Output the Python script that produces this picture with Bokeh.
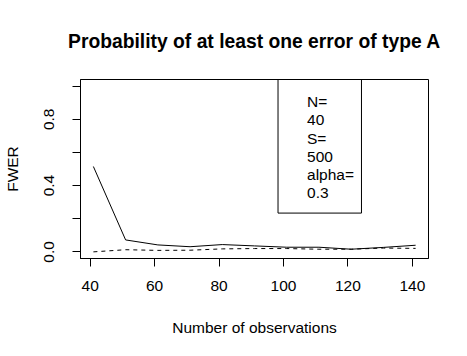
from bokeh.plotting import figure
from bokeh.embed import file_html
from bokeh.resources import INLINE
from bokeh.models import FixedTicker, PrintfTickFormatter, Range1d
from bokeh.core.properties import value

# ---- data ----
n_obs = [41, 51, 61, 71, 81, 91, 101, 111, 121, 131, 141]
fwer_solid = [0.515, 0.072, 0.042, 0.031, 0.044, 0.036, 0.028, 0.028, 0.016, 0.027, 0.040]
fwer_dashed = [0.0, 0.013, 0.009, 0.010, 0.018, 0.020, 0.020, 0.016, 0.016, 0.023, 0.021]
x_ticks = [40, 60, 80, 100, 120, 140]
y_ticks_labeled = [0.0, 0.4, 0.8]
y_ticks_unlabeled = [0.2, 0.6, 1.0]
legend_lines = ["N=", "40", "S=", "500", "alpha=", "0.3"]
title_text = "Probability of at least one error of type A"

FONT = "Liberation Sans"
FS = "15.5px"

p = figure(frame_width=348, frame_height=179,
           min_border_left=79, min_border_right=30,
           min_border_top=79, min_border_bottom=91,
           x_range=Range1d(37, 145), y_range=Range1d(-0.04, 1.04),
           output_backend="svg", toolbar_location=None,
           title=title_text)

p.background_fill_color = "white"
p.border_fill_color = "white"
p.outline_line_color = "black"
p.outline_line_width = 1
p.outline_line_alpha = 1
p.xgrid.visible = False
p.ygrid.visible = False

p.title.text_font = FONT
p.title.text_font_size = "19.3px"
p.title.text_font_style = "bold"
p.title.align = "center"
p.title.standoff = 56
p.title.text_color = "black"

# x axis
xa = p.xaxis[0]
xa.ticker = FixedTicker(ticks=x_ticks)
xa.axis_label = "Number of observations"
xa.major_tick_out = 8
xa.major_tick_in = 0
xa.minor_tick_out = 0
xa.minor_tick_in = 0
xa.major_label_standoff = 14
xa.axis_label_standoff = 25
xa.major_label_text_font = FONT
xa.major_label_text_font_size = FS
xa.axis_label_text_font = FONT
xa.axis_label_text_font_size = FS
xa.axis_label_text_font_style = "normal"
xa.axis_line_color = "black"
xa.major_tick_line_color = "black"
xa.major_label_text_color = "black"
xa.axis_label_text_color = "black"

# y axis
ya = p.yaxis[0]
ya.ticker = FixedTicker(ticks=y_ticks_labeled, minor_ticks=y_ticks_unlabeled)
ya.formatter = PrintfTickFormatter(format="%.1f")
ya.axis_label = "FWER"
ya.major_label_orientation = "vertical"
ya.major_tick_out = 8
ya.major_tick_in = 0
ya.minor_tick_out = 8
ya.minor_tick_in = 0
ya.minor_tick_line_color = "black"
ya.major_label_standoff = 18
ya.axis_label_standoff = 21
ya.major_label_text_font = FONT
ya.major_label_text_font_size = FS
ya.axis_label_text_font = FONT
ya.axis_label_text_font_size = FS
ya.axis_label_text_font_style = "normal"
ya.axis_line_color = "black"
ya.major_tick_line_color = "black"
ya.major_label_text_color = "black"
ya.axis_label_text_color = "black"

# series
p.line(n_obs, fwer_solid, line_color="black", line_width=1)
p.line(n_obs, fwer_dashed, line_color="black", line_width=1, line_dash="4 4")

# legend box (R legend with text only)
box_left, box_right, box_bottom, box_top = 98.3, 124.2, 0.234, 1.04
p.quad(left=[box_left], right=[box_right], bottom=[box_bottom], top=[box_top],
       fill_color=None, line_color="black", line_width=1)
text_x = 107.3
first_y = 0.905
step = 0.110
ys = [first_y - i * step for i in range(len(legend_lines))]
p.text(x=[text_x] * len(legend_lines), y=ys, text=legend_lines,
       text_font=value(FONT), text_font_size=FS, text_color="black",
       text_align="left", text_baseline="middle")

open("out.html", "w").write(file_html(p, INLINE))
